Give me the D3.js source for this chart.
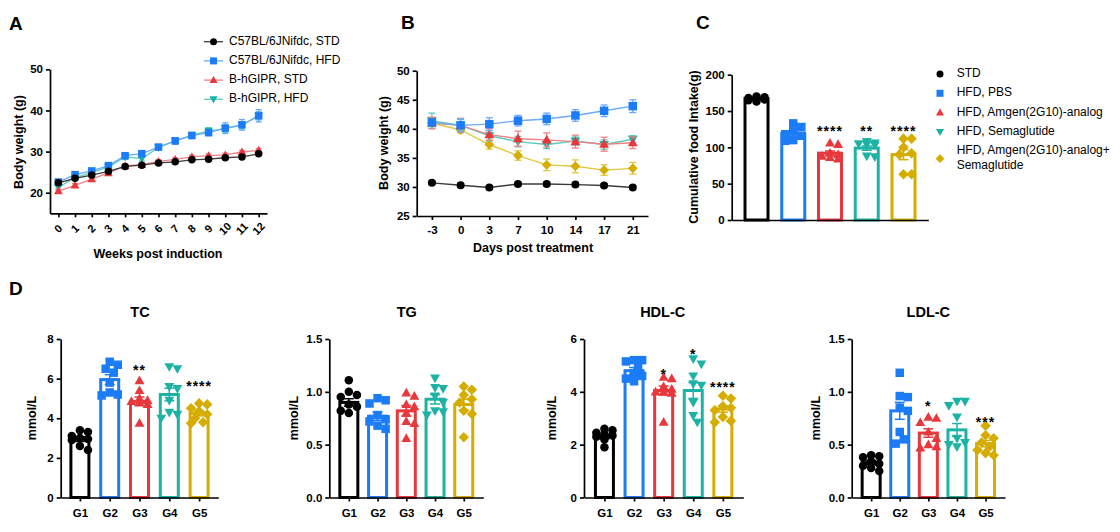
<!DOCTYPE html>
<html>
<head>
<meta charset="utf-8">
<script src="https://cdn.jsdelivr.net/npm/d3@7"></script>
<style>
  body { margin: 0; background: #fff; }
  svg { font-family: "Liberation Sans", Arial, sans-serif; }
</style>
</head>
<body>
<svg id="fig" width="1120" height="532"></svg>
<script>
// ---------- data ----------
// Panel A : body weight during induction
const weeks = [0,1,2,3,4,5,6,7,8,9,10,11,12];
const aLabels = ["C57BL/6JNifdc, STD", "C57BL/6JNifdc, HFD", "B-hGIPR, STD", "B-hGIPR, HFD"];
const aStd        = [22.4,23.5,24.3,25.2,26.4,26.7,27.25,27.5,28.0,28.15,28.5,28.7,29.45];
const aHfd        = [22.6,24.4,25.3,26.6,29.0,29.5,31.1,32.6,33.9,34.6,35.7,36.5,38.7];
const aGiprStd    = [20.4,21.8,23.3,24.8,26.5,26.8,27.6,28.1,28.7,29.0,29.2,29.9,30.3];
const aGiprHfd    = [21.3,23.7,24.9,26.3,28.7,28.3,31.0,32.6,34.0,35.0,35.6,36.4,38.7];
const aStdErr     = [0.3,0.3,0.3,0.3,0.3,0.3,0.3,0.3,0.3,0.3,0.3,0.3,0.3];
const aHfdErr     = [0.4,0.4,0.4,0.5,0.5,0.6,0.6,0.8,0.7,0.7,1.3,1.3,1.5];
const aGiprStdErr = [0.4,0.4,0.4,0.4,0.4,0.4,0.4,0.4,0.4,0.4,0.4,0.4,0.4];
const aGiprHfdErr = [0.5,0.5,0.5,0.5,0.6,0.6,0.6,0.7,0.7,0.8,0.9,0.9,1.0];

// Panel B : body weight after treatment
const days = ["-3","0","3","7","10","14","17","21"];
const bStd       = [30.7,30.3,29.9,30.5,30.5,30.4,30.25,29.9];
const bPbs       = [41.1,40.6,40.8,41.4,41.7,42.3,43.1,43.9];
const bAmgen     = [41.0,40.6,39.0,38.3,38.1,37.8,37.35,37.6];
const bSema      = [41.4,40.6,38.8,37.8,37.3,37.9,37.3,38.2];
const bCombo     = [41.0,39.8,37.3,35.4,33.8,33.55,32.9,33.2];
const bStdErr    = [0.3,0.3,0.3,0.3,0.3,0.3,0.3,0.3];
const bPbsErr    = [0.5,1.1,1.1,0.9,1.0,1.0,1.0,1.1];
const bAmgenErr  = [1.0,1.2,1.0,1.3,1.2,1.1,1.2,1.0];
const bSemaErr   = [1.3,1.0,0.9,0.9,0.7,0.7,0.8,0.6];
const bComboErr  = [0.6,0.5,0.8,0.8,1.0,1.1,0.9,1.0];

// Panel C : cumulative food intake
const cLegend = ["STD", "HFD, PBS", "HFD, Amgen(2G10)-analog", "HFD, Semaglutide", "HFD, Amgen(2G10)-analog+|Semaglutide"];
const cMean  = [167, 119, 92, 99, 90];
const cSem   = [1, 3.5, 3, 3, 7];
const cPts = [
  [170,169,168,167,166,165,163],
  [133,128,122,118,116,110,109],
  [106,104,92,90,88,86,84],
  [108,106,105,104,103,88,87],
  [112,112,100,92,90,63,63]
];
const cStars   = ["", "", "****", "**", "****"];
const cStarAt  = [null, null, 126, 126, 126];

// Panel D : serum lipids
const groups = ["G1","G2","G3","G4","G5"];
const tcMean = [2.95, 5.95, 4.85, 5.2, 4.25];
const tcSem  = [0.12, 0.25, 0.22, 0.32, 0.13];
const tcPts = [
  [3.4,3.3,3.1,3.0,2.95,2.9,2.6,2.4],
  [6.85,6.7,6.5,6.3,5.8,5.3,5.15,5.2],
  [5.9,5.4,5.0,4.9,4.85,4.8,4.7,3.75],
  [6.6,6.5,5.6,5.5,4.9,4.3,4.2,4.0],
  [4.75,4.7,4.5,4.35,4.2,4.0,3.8,3.75]
];
const tcStars  = ["", "", "**", "", "****"];
const tcStarAt = [null, null, 6.6, null, 5.8];

const tgMean = [0.90, 0.77, 0.82, 0.93, 0.88];
const tgSem  = [0.035, 0.04, 0.05, 0.045, 0.05];
const tgPts = [
  [1.11,1.0,0.97,0.95,0.88,0.86,0.82,0.80],
  [0.94,0.92,0.89,0.78,0.74,0.72,0.68,0.65],
  [0.99,0.96,0.88,0.86,0.80,0.72,0.70,0.56],
  [1.13,1.04,1.03,0.96,0.90,0.82,0.81,0.78],
  [1.05,1.02,0.97,0.93,0.90,0.82,0.79,0.57]
];
const tgStars  = ["", "", "", "", ""];
const tgStarAt = [null, null, null, null, null];

const hdlMean = [2.3, 4.8, 4.05, 4.05, 3.35];
const hdlSem  = [0.08, 0.12, 0.17, 0.3, 0.12];
const hdlPts = [
  [2.6,2.55,2.45,2.4,2.35,2.3,2.2,1.9],
  [5.2,5.2,5.15,4.95,4.7,4.6,4.5,4.4],
  [4.55,4.5,4.2,4.1,4.0,4.0,3.95,2.85],
  [5.25,5.05,4.6,4.3,4.25,3.6,3.1,2.85],
  [3.85,3.75,3.45,3.4,3.3,3.05,2.9,2.85]
];
const hdlStars  = ["", "", "*", "*", "****"];
const hdlStarAt = [null, null, 4.8, 5.55, 4.3];

const ldlMean = [0.33, 0.82, 0.61, 0.64, 0.51];
const ldlSem  = [0.02, 0.08, 0.04, 0.06, 0.03];
const ldlPts = [
  [0.40,0.39,0.38,0.34,0.32,0.30,0.28,0.25],
  [1.18,0.96,0.95,0.85,0.82,0.62,0.55,0.51],
  [0.76,0.75,0.71,0.62,0.56,0.50,0.48,0.47],
  [0.91,0.91,0.87,0.76,0.56,0.52,0.50,0.48],
  [0.68,0.59,0.56,0.52,0.48,0.45,0.42,0.40]
];
const ldlStars  = ["", "", "*", "", "***"];
const ldlStarAt = [null, null, 0.89, null, 0.74];

// ---------- styles ----------
const FONT = '"Liberation Sans", Arial, sans-serif';
const colors     = ["#000000", "#1b7cf6", "#e8383d", "#1db3a4", "#d4ad00"];
const lineColors = ["#3a3a3a", "#6aaaf8", "#ef8285", "#5ccabe", "#e3c640"];
const shapes     = ["circle", "square", "triangle", "triangleDown", "diamond"];

const svg = d3.select("#fig");

function shapePath(shape, s) {
  const h = s / 2;
  switch (shape) {
    case "circle": return d3.symbol(d3.symbolCircle, Math.PI * h * h)();
    case "square": return `M${-h},${-h}H${h}V${h}H${-h}Z`;
    case "triangle": return `M0,${-s*0.6}L${s*0.58},${s*0.42}L${-s*0.58},${s*0.42}Z`;
    case "triangleDown": return `M0,${s*0.6}L${s*0.58},${-s*0.42}L${-s*0.58},${-s*0.42}Z`;
    case "diamond": return `M0,${-s*0.62}L${s*0.62},0L0,${s*0.62}L${-s*0.62},0Z`;
  }
}

function marker(g, shape, x, y, s, color) {
  g.append("path")
    .attr("d", shapePath(shape, s))
    .attr("transform", `translate(${x},${y})`)
    .attr("fill", color);
}

function styleAxis(g, size) {
  g.attr("font-family", FONT).attr("font-size", size || 11);
  g.select(".domain").attr("stroke", "#000").attr("stroke-width", 1.7);
  g.selectAll(".tick line").attr("stroke", "#000").attr("stroke-width", 1.7);
  g.selectAll(".tick text").attr("font-weight", "bold").attr("fill", "#000");
}

function panelLetter(txt, x, y) {
  svg.append("text").attr("x", x).attr("y", y).text(txt)
    .attr("font-size", 19).attr("font-weight", "bold").attr("font-family", FONT);
}

function yTitle(txt, x, y, size) {
  svg.append("text").attr("transform", `translate(${x},${y}) rotate(-90)`)
    .attr("text-anchor", "middle").attr("dominant-baseline", "middle")
    .attr("font-size", size || 12.5).attr("font-weight", "bold").text(txt);
}

function errBar(g, x, yLo, yHi, color, cap, w) {
  g.append("line").attr("x1", x).attr("x2", x).attr("y1", yLo).attr("y2", yHi)
    .attr("stroke", color).attr("stroke-width", w || 1.3);
  [yLo, yHi].forEach(yy => g.append("line")
    .attr("x1", x - cap).attr("x2", x + cap).attr("y1", yy).attr("y2", yy)
    .attr("stroke", color).attr("stroke-width", w || 1.3));
}

// simple beeswarm: returns horizontal offsets for each value
function swarm(vals, y, r, maxOff) {
  const order = vals.map((v, i) => i).sort((a, b) => vals[b] - vals[a]);
  const placed = [];
  const off = new Array(vals.length).fill(0);
  const step = r * 0.95;
  order.forEach(i => {
    const py = y(vals[i]);
    const cands = [0];
    for (let k = 1; k * step <= maxOff + 0.1; k++) cands.push(k * step, -k * step);
    let best = null, bestOv = Infinity;
    for (const dx of cands) {
      let ov = 0;
      placed.forEach(p => { const d = Math.hypot(p.dx - dx, p.y - py); if (d < 2 * r * 0.9) ov += 2 * r - d; });
      if (ov === 0) { best = dx; break; }
      if (ov < bestOv) { bestOv = ov; best = dx; }
    }
    off[i] = best;
    placed.push({ dx: best, y: py });
  });
  return off;
}

// ---------- Panel A ----------
panelLetter("A", 9, 30);
{
  const x = d3.scaleLinear().domain([-0.5, 12.5]).range([50, 267]);
  const y = d3.scaleLinear().domain([15, 50]).range([213.3, 69.3]);
  const g = svg.append("g");

  const gx = g.append("g").attr("transform", "translate(0,213.3)")
    .call(d3.axisBottom(x).tickValues(weeks).tickSize(4).tickSizeOuter(0).tickFormat(d3.format("d")));
  styleAxis(gx, 11);
  gx.selectAll(".tick text")
    .attr("text-anchor", "middle").attr("dy", null).attr("y", 0)
    .attr("transform", "translate(0,16) rotate(-45)")
    .attr("dominant-baseline", "middle");
  const gy = g.append("g").attr("transform", "translate(50,0)")
    .call(d3.axisLeft(y).tickValues([20, 30, 40, 50]).tickSize(4).tickSizeOuter(0));
  styleAxis(gy, 11.5);

  yTitle("Body weight (g)", 20, 142);
  svg.append("text").attr("x", 158).attr("y", 258).attr("text-anchor", "middle")
    .attr("font-size", 12.5).attr("font-weight", "bold").text("Weeks post induction");

  const series = [
    { vals: aGiprHfd, err: aGiprHfdErr, c: 3, shape: "triangleDown", s: 7.5 },
    { vals: aHfd,     err: aHfdErr,     c: 1, shape: "square",       s: 7.5 },
    { vals: aGiprStd, err: aGiprStdErr, c: 2, shape: "triangle",     s: 7.5 },
    { vals: aStd,     err: aStdErr,     c: 0, shape: "circle",       s: 7.5 }
  ];
  const line = d3.line().x((d, i) => x(weeks[i])).y(d => y(d));
  series.forEach(sr => {
    const sg = g.append("g");
    sr.vals.forEach((v, i) => errBar(sg, x(weeks[i]), y(v - sr.err[i]), y(v + sr.err[i]), lineColors[sr.c], 3));
    sg.append("path").datum(sr.vals).attr("d", line).attr("fill", "none")
      .attr("stroke", lineColors[sr.c]).attr("stroke-width", 1.3);
    sr.vals.forEach((v, i) => marker(sg, sr.shape, x(weeks[i]), y(v), sr.s, colors[sr.c]));
  });

  // legend
  const legC = [0, 1, 2, 3], legShape = ["circle", "square", "triangle", "triangleDown"];
  aLabels.forEach((lab, i) => {
    const yy = 41.7 + i * 19.2;
    const c = legC[i];
    svg.append("line").attr("x1", 204).attr("x2", 223).attr("y1", yy).attr("y2", yy)
      .attr("stroke", lineColors[c]).attr("stroke-width", 1.3);
    marker(svg, legShape[i], 213.5, yy, 7, colors[c]);
    svg.append("text").attr("x", 229).attr("y", yy).attr("dominant-baseline", "middle")
      .attr("font-size", 12).text(lab);
  });
}

// ---------- Panel B ----------
panelLetter("B", 401, 29);
{
  const x = d3.scalePoint().domain(days).range([416.7, 648]).padding(0.53);
  const y = d3.scaleLinear().domain([25, 50]).range([216, 70.7]);
  const g = svg.append("g");
  const gx = g.append("g").attr("transform", "translate(0,216)")
    .call(d3.axisBottom(x).tickSize(4).tickSizeOuter(0));
  styleAxis(gx, 11.5);
  gx.selectAll(".tick text").attr("dy", "0.95em");
  const gy = g.append("g").attr("transform", "translate(416.7,0)")
    .call(d3.axisLeft(y).tickValues([25, 30, 35, 40, 45, 50]).tickSize(4).tickSizeOuter(0));
  styleAxis(gy, 11.5);
  yTitle("Body weight (g)", 385, 143);
  svg.append("text").attr("x", 533).attr("y", 252).attr("text-anchor", "middle")
    .attr("font-size", 12.5).attr("font-weight", "bold").text("Days post treatment");

  const series = [
    { vals: bCombo, err: bComboErr, c: 4, s: 8 },
    { vals: bSema,  err: bSemaErr,  c: 3, s: 8.5 },
    { vals: bAmgen, err: bAmgenErr, c: 2, s: 8.5 },
    { vals: bPbs,   err: bPbsErr,   c: 1, s: 8.5 },
    { vals: bStd,   err: bStdErr,   c: 0, s: 8 }
  ];
  const line = d3.line().x((d, i) => x(days[i])).y(d => y(d));
  series.forEach(sr => {
    const sg = g.append("g");
    sr.vals.forEach((v, i) => errBar(sg, x(days[i]), y(v - sr.err[i]), y(v + sr.err[i]), lineColors[sr.c], 3.5));
    sg.append("path").datum(sr.vals).attr("d", line).attr("fill", "none")
      .attr("stroke", lineColors[sr.c]).attr("stroke-width", 1.4);
    sr.vals.forEach((v, i) => marker(sg, shapes[sr.c], x(days[i]), y(v), sr.s, colors[sr.c]));
  });
}

// ---------- bar + scatter helper ----------
function barPanel(frame, means, sems, pts, stars, starAt, cats, yMax, yTicks, fmt, barW, ms) {
  const x = d3.scalePoint().domain(cats).range([frame.x0, frame.x1]).padding(frame.pad);
  const y = d3.scaleLinear().domain([0, yMax]).range([frame.y0, frame.y1]);
  const g = svg.append("g");

  cats.forEach((cat, i) => {
    const cx = x(cat), c = colors[i];
    g.append("rect").attr("x", cx - barW / 2).attr("y", y(means[i]))
      .attr("width", barW).attr("height", y(0) - y(means[i]))
      .attr("fill", "#fff").attr("stroke", c).attr("stroke-width", 3);
    const offs = swarm(pts[i], y, ms / 2, barW / 2);
    pts[i].forEach((v, j) => marker(g, shapes[i], cx + offs[j], y(v), ms, c));
    errBar(g, cx, y(means[i] - sems[i]), y(means[i] + sems[i]), c, 5, 1.5);
    if (stars[i]) {
      g.append("text").attr("x", cx).attr("y", y(starAt[i]) + 8)
        .attr("text-anchor", "middle").attr("font-size", 14).attr("font-weight", "bold")
        .attr("letter-spacing", 1).text(stars[i]);
    }
  });

  const gy = g.append("g").attr("transform", `translate(${frame.x0},0)`)
    .call(d3.axisLeft(y).tickValues(yTicks).tickSize(4).tickSizeOuter(0).tickFormat(fmt));
  styleAxis(gy, 11.5);
  const gx = g.append("g").attr("transform", `translate(0,${frame.y0})`)
    .call(d3.axisBottom(x).tickSize(frame.showCats ? 4 : 0).tickSizeOuter(0));
  styleAxis(gx, 11.5);
  gx.selectAll(".tick text").attr("dy", "1.05em");
  if (!frame.showCats) gx.selectAll(".tick text").remove();
  return { x, y };
}

// ---------- Panel C ----------
panelLetter("C", 696, 29);
{
  const cCats = ["c1", "c2", "c3", "c4", "c5"];
  barPanel({ x0: 731.7, x1: 928.3, y0: 220, y1: 74.7, pad: 0.675, showCats: false },
    cMean, cSem, cPts, cStars, cStarAt, cCats, 200, [0, 50, 100, 150, 200], d3.format("d"), 23, 8.5);
  yTitle("Cumulative food Intake(g)", 695, 147);

  cLegend.forEach((lab, i) => {
    const lines = lab.split("|");
    const yy = 74 + i * 19.3 + (lines.length > 1 ? 7.5 : 0);
    marker(svg, shapes[i], 940, yy, 7, colors[i]);
    lines.forEach((ln, k) => {
      svg.append("text").attr("x", 956.7).attr("y", yy + (k - (lines.length - 1) / 2) * 15)
        .attr("dominant-baseline", "middle").attr("font-size", 12).text(ln);
    });
  });
}

// ---------- Panel D ----------
panelLetter("D", 9, 295);
{
  const panels = [
    { title: "TC",    means: tcMean,  sems: tcSem,  pts: tcPts,  stars: tcStars,  at: tcStarAt,  max: 8,   ticks: [0,2,4,6,8],       fmt: d3.format("d") },
    { title: "TG",    means: tgMean,  sems: tgSem,  pts: tgPts,  stars: tgStars,  at: tgStarAt,  max: 1.5, ticks: [0,0.5,1,1.5],     fmt: d3.format(".1f") },
    { title: "HDL-C", means: hdlMean, sems: hdlSem, pts: hdlPts, stars: hdlStars, at: hdlStarAt, max: 6,   ticks: [0,2,4,6],         fmt: d3.format("d") },
    { title: "LDL-C", means: ldlMean, sems: ldlSem, pts: ldlPts, stars: ldlStars, at: ldlStarAt, max: 1.5, ticks: [0,0.5,1,1.5],     fmt: d3.format(".1f") }
  ];
  const frames = [
    { x0: 60.7,  x1: 218.3,  y0: 497.5, y1: 339, pad: 0.644, showCats: true, tx: 140,   ty: 313, yt: [33, 418] },
    { x0: 329.3, x1: 483.3,  y0: 497.5, y1: 339, pad: 0.68,  showCats: true, tx: 406.7, ty: 313, yt: [295, 418] },
    { x0: 584,   x1: 743.3,  y0: 497.5, y1: 339, pad: 0.69,  showCats: true, tx: 662.7, ty: 313, yt: [553, 418] },
    { x0: 851.7, x1: 1005,   y0: 497.5, y1: 339, pad: 0.68,  showCats: true, tx: 928.3, ty: 313, yt: [817, 418] }
  ];
  panels.forEach((p, k) => {
    const f = frames[k];
    barPanel(f, p.means, p.sems, p.pts, p.stars, p.at, groups, p.max, p.ticks, p.fmt, 18, 8.5);
    svg.append("text").attr("x", f.tx).attr("y", f.ty).attr("text-anchor", "middle")
      .attr("dominant-baseline", "middle").attr("font-size", 14.5).attr("font-weight", "bold").text(p.title);
    yTitle("mmol/L", f.yt[0], f.yt[1]);
  });
}
</script>
</body>
</html>
